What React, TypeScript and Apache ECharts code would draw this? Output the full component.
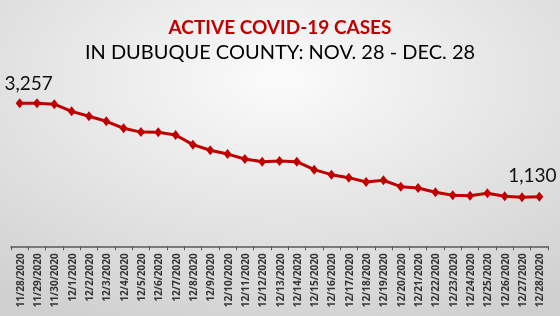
import React, { useEffect, useRef } from "react";
import * as echarts from "echarts";

const categories = [
  "11/28/2020", "11/29/2020", "11/30/2020", "12/1/2020", "12/2/2020", "12/3/2020",
  "12/4/2020", "12/5/2020", "12/6/2020", "12/7/2020", "12/8/2020", "12/9/2020",
  "12/10/2020", "12/11/2020", "12/12/2020", "12/13/2020", "12/14/2020", "12/15/2020",
  "12/16/2020", "12/17/2020", "12/18/2020", "12/19/2020", "12/20/2020", "12/21/2020",
  "12/22/2020", "12/23/2020", "12/24/2020", "12/25/2020", "12/26/2020", "12/27/2020",
  "12/28/2020",
];

const activeCases = [
  3257, 3257, 3236, 3073, 2960, 2847, 2688, 2600, 2597, 2535, 2314, 2187,
  2100, 1989, 1927, 1943, 1927, 1745, 1631, 1563, 1465, 1504, 1358, 1328,
  1230, 1162, 1153, 1208, 1140, 1117, 1130,
];

const titleText = "ACTIVE COVID-19 CASES";
const subtitleText = "IN DUBUQUE COUNTY: NOV. 28 - DEC. 28";

export default function App() {
  const ref = useRef<HTMLDivElement>(null);

  useEffect(() => {
    if (!ref.current) return;
    const chart = echarts.init(ref.current, null, { renderer: "svg" });
    const last = activeCases.length - 1;
    const data = activeCases.map((v, i) => {
      if (i === 0 || i === last) {
        return {
          value: v,
          label: {
            show: true,
            position: "inside",
            offset: i === 0 ? [9, -21] : [-7, -22],
            formatter: (p: any) => Number(p.value).toLocaleString("en-US"),
            fontFamily: "Lato",
            fontSize: 19,
            color: "#111111",
          },
        };
      }
      return v;
    });

    chart.setOption({
      animation: false,
      backgroundColor: new echarts.graphic.RadialGradient(0.5, 0.25, 0.85, [
        { offset: 0, color: "#fbfbfb" },
        { offset: 1, color: "#cfcfcf" },
      ]),
      title: [
        {
          text: titleText,
          left: "center",
          top: 11,
          textStyle: {
            fontFamily: "Lato",
            fontWeight: "bold",
            fontSize: 19,
            color: "#c00000",
            lineHeight: 20,
          },
        },
        {
          text: subtitleText,
          left: "center",
          top: 35,
          textStyle: {
            fontFamily: "Lato",
            fontWeight: "normal",
            fontSize: 20,
            color: "#000000",
            lineHeight: 22,
          },
        },
      ],
      grid: {
        left: 11,
        right: 12,
        top: 92.6,
        bottom: 69.7,
        containLabel: false,
      },
      xAxis: {
        type: "category",
        data: categories,
        boundaryGap: true,
        axisLine: { lineStyle: { color: "#595959", width: 1.5 } },
        axisTick: { show: true, length: 4, lineStyle: { color: "#595959" } },
        axisLabel: {
          rotate: 90,
          interval: 0,
          margin: 7,
          fontFamily: "Open Sans",
          fontWeight: "bold",
          fontSize: 10,
          color: "#333333",
        },
      },
      yAxis: {
        type: "value",
        min: 0,
        max: 3500,
        show: false,
        splitLine: { show: false },
      },
      series: [
        {
          type: "line",
          data,
          symbol: "diamond",
          symbolSize: [8, 10],
          lineStyle: { color: "#c00000", width: 3 },
          itemStyle: { color: "#c00000" },
          label: { show: false },
        },
      ],
    });
    return () => chart.dispose();
  }, []);

  return (
    <div
      ref={ref}
      style={{ position: "fixed", left: 0, top: 0, width: 560, height: 316 }}
    />
  );
}
